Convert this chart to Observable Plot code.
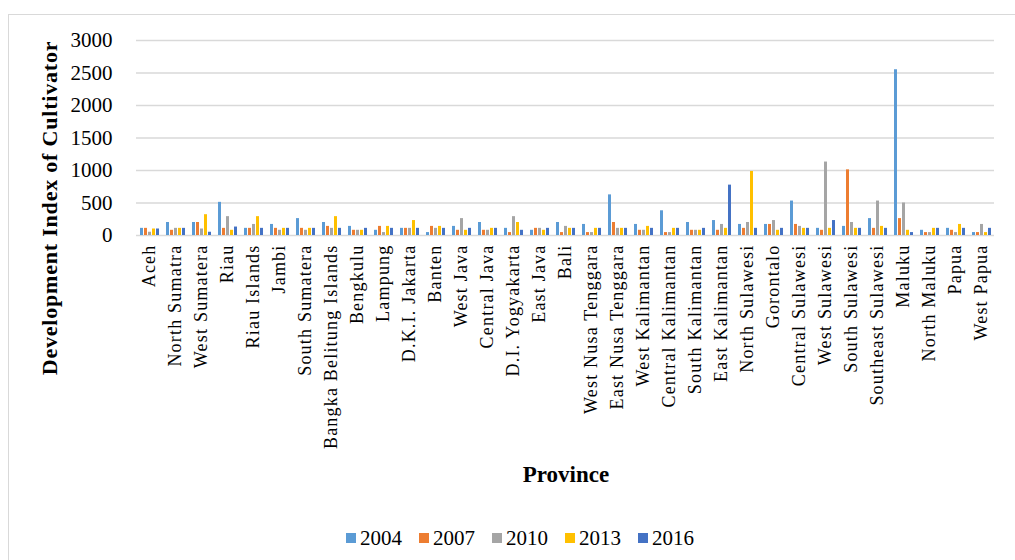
<!DOCTYPE html>
<html>
<head>
<meta charset="utf-8">
<script src="https://cdn.jsdelivr.net/npm/d3@7"></script>
<script src="https://cdn.jsdelivr.net/npm/@observablehq/plot@0.6"></script>
<style>
  html, body { margin: 0; padding: 0; background: #fff; }
  body { width: 1015px; height: 560px; position: relative; overflow: hidden; font-family: "Liberation Serif", "Times New Roman", serif; }
  #frame { position: absolute; left: 8px; top: 14px; width: 1100px; height: 600px; border-left: 1px solid #d9d9d9; border-top: 1px solid #d9d9d9; }
  #chart { position: absolute; left: 0; top: 0; }
  #chart svg text { font-family: "Liberation Serif", "Times New Roman", serif; fill: #000; }
  #chart svg [aria-label^="y-axis"] text { font-size: 21px; }
  #chart svg [aria-label^="fx-axis"] text { font-size: 18px; letter-spacing: 1.2px; }
  #ytitle { position: absolute; left: -150px; top: 196px; width: 400px; text-align: center; transform: rotate(-90deg); font-weight: bold; font-size: 22px; letter-spacing: 0.8px; line-height: 24px; }
  #xtitle { position: absolute; left: 466px; top: 462px; width: 200px; text-align: center; font-weight: bold; font-size: 23px; line-height: 26px; }
  #legend { position: absolute; left: 346px; top: 526px; display: flex; font-size: 21px; line-height: 24px; }
  #legend .item { display: flex; align-items: center; width: 73px; }
  #legend .sw { width: 10px; height: 10px; margin-right: 4px; }
</style>
</head>
<body>
<div id="frame"></div>
<div id="chart"></div>
<div id="ytitle">Development Index of Cultivator</div>
<div id="xtitle">Province</div>
<div id="legend"></div>
<script>
const provinces = ["Aceh","North Sumatra","West Sumatera","Riau","Riau Islands","Jambi","South Sumatera","Bangka Belitung Islands","Bengkulu","Lampung","D.K.I. Jakarta","Banten","West Java","Central Java","D.I. Yogyakarta","East Java","Bali","West Nusa Tenggara","East Nusa Tenggara","West Kalimantan","Central Kalimantan","South Kalimantan","East Kalimantan","North Sulawesi","Gorontalo","Central Sulawesi","West Sulawesi","South Sulawesi","Southeast Sulawesi","Maluku","North Maluku","Papua","West Papua"];
const years = ["2004","2007","2010","2013","2016"];
const colors = ["#5B9BD5","#ED7D31","#A5A5A5","#FFC000","#4472C4"];
const yTicks = [0,500,1000,1500,2000,2500,3000];

const v2004 = [110,200,200,510,110,170,260,200,140,80,110,45,140,200,110,80,200,170,625,170,380,200,230,170,170,530,110,140,260,2550,80,110,45];
const v2007 = [110,80,200,110,110,110,110,140,80,140,110,140,80,80,45,110,45,45,200,80,45,80,80,110,170,170,80,1010,110,260,45,80,45];
const v2010 = [50,110,100,290,170,80,80,110,80,45,110,110,260,80,290,110,140,45,110,80,45,80,170,200,230,140,1130,200,530,500,45,45,170];
const v2013 = [100,110,320,80,290,110,110,290,80,140,230,140,80,110,200,80,110,110,110,140,110,80,110,985,80,110,110,110,140,80,110,170,45];
const v2016 = [100,110,50,130,110,110,110,110,110,110,110,110,110,110,80,110,110,110,110,110,110,110,775,110,110,110,230,110,110,45,110,110,110];

const series = [v2004, v2007, v2010, v2013, v2016];
const rows = [];
provinces.forEach((p, i) => {
  years.forEach((y, j) => rows.push({province: p, year: y, value: series[j][i]}));
});

const chart = Plot.plot({
  width: 1015,
  height: 500,
  marginLeft: 128,
  marginRight: 13,
  marginTop: 40,
  marginBottom: 265,
  style: {fontFamily: "Liberation Serif", fontSize: "17px", color: "#000", background: "transparent", overflow: "visible"},
  facet: {data: rows, x: "province"},
  fx: {domain: provinces, padding: 0, axis: "bottom", label: null, tickRotate: -90, tickSize: 0, tickPadding: 9},
  x: {domain: years, axis: null, paddingInner: 0.25, paddingOuter: 0.8},
  y: {domain: [0, 3000], ticks: yTicks, tickSize: 0, tickPadding: 24, label: null, tickFormat: d => String(d)},
  color: {domain: years, range: colors},
  marks: [
    Plot.ruleY(yTicks, {stroke: "#d9d9d9", strokeWidth: 1.5}),
    Plot.barY(rows, {x: "year", y: "value", fill: "year"})
  ]
});
document.getElementById("chart").appendChild(chart);

const legend = document.getElementById("legend");
years.forEach((y, j) => {
  const item = document.createElement("div");
  item.className = "item";
  const sw = document.createElement("span");
  sw.className = "sw";
  sw.style.background = colors[j];
  const t = document.createElement("span");
  t.textContent = y;
  item.appendChild(sw);
  item.appendChild(t);
  legend.appendChild(item);
});
</script>
</body>
</html>
